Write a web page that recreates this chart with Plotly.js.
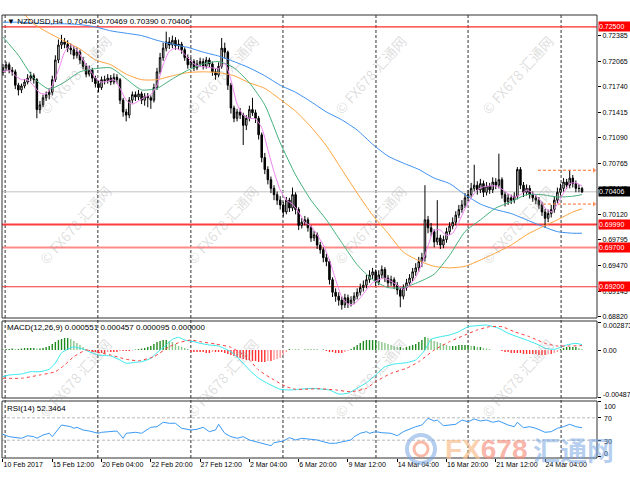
<!DOCTYPE html>
<html><head><meta charset="utf-8">
<script src="https://cdn.plot.ly/plotly-3.0.1.min.js"></script>
<style>html,body{margin:0;padding:0;background:#fff}#chart{width:630px;height:490px}</style>
</head><body><div id="chart"></div>
<script>
// ---------------- DATA ----------------
const symbol = 'NZDUSD,H4';
const tickBars = [0,16,32,48,64,80,96,112,128,144,160,176];
const tickLabels = ['10 Feb 2017','15 Feb 12:00','20 Feb 04:00','22 Feb 20:00','27 Feb 12:00','2 Mar 04:00','6 Mar 20:00','9 Mar 12:00','14 Mar 04:00','16 Mar 20:00','21 Mar 12:00','24 Mar 04:00'];

const open = [0.7192,0.7198,0.7202,0.7195,0.7193,0.7176,0.7170,0.7175,0.7180,0.7185,
0.7188,0.7183,0.7145,0.7151,0.7160,0.7164,0.7167,0.7183,0.7208,0.7227,
0.7231,0.7228,0.7223,0.7221,0.7214,0.7218,0.7208,0.7200,0.7190,0.7195,
0.7185,0.7178,0.7173,0.7183,0.7182,0.7185,0.7180,0.7186,0.7183,0.7157,
0.7142,0.7138,0.7157,0.7164,0.7161,0.7165,0.7157,0.7162,0.7160,0.7157,
0.7173,0.7193,0.7211,0.7223,0.7231,0.7227,0.7233,0.7226,0.7228,0.7221,
0.7211,0.7202,0.7206,0.7198,0.7203,0.7206,0.7200,0.7208,0.7203,0.7193,
0.7189,0.7200,0.7223,0.7218,0.7176,0.7147,0.7134,0.7142,0.7138,0.7125,
0.7134,0.7145,0.7141,0.7134,0.7113,0.7084,0.7069,0.7056,0.7045,0.7037,
0.7030,0.7024,0.7015,0.7030,0.7020,0.7037,0.7018,0.6998,0.7002,0.7005,
0.6995,0.6982,0.6986,0.6973,0.6967,0.6957,0.6952,0.6929,0.6913,0.6908,
0.6903,0.6897,0.6906,0.6899,0.6903,0.6908,0.6913,0.6919,0.6922,0.6929,
0.6935,0.6939,0.6926,0.6935,0.6942,0.6931,0.6925,0.6929,0.6922,0.6916,
0.6908,0.6919,0.6925,0.6931,0.6939,0.6944,0.6952,0.6957,0.7005,0.6995,
0.6990,0.6977,0.6982,0.6973,0.6980,0.6990,0.6997,0.7002,0.7011,0.7018,
0.7024,0.7033,0.7037,0.7045,0.7049,0.7043,0.7051,0.7040,0.7048,0.7043,
0.7053,0.7049,0.7056,0.7037,0.7028,0.7033,0.7030,0.7035,0.7069,0.7049,
0.7040,0.7045,0.7037,0.7033,0.7030,0.7024,0.7015,0.7007,0.7013,0.7018,
0.7030,0.7040,0.7045,0.7053,0.7049,0.7058,0.7051,0.7045,0.70448];

const high = [0.7203,0.7206,0.7205,0.7199,0.7196,0.7179,0.7178,0.7184,0.7190,0.7193,
0.7191,0.7185,0.7156,0.7164,0.7168,0.7172,0.7188,0.7214,0.7234,0.7240,
0.7236,0.7233,0.7229,0.7226,0.7224,0.7221,0.7212,0.7204,0.7201,0.7198,
0.7188,0.7182,0.7187,0.7188,0.7190,0.7189,0.7191,0.7190,0.7185,0.7160,
0.7146,0.7161,0.7168,0.7168,0.7170,0.7168,0.7166,0.7166,0.7163,0.7178,
0.7198,0.7217,0.7230,0.7244,0.7237,0.7239,0.7237,0.7234,0.7231,0.7224,
0.7215,0.7211,0.7209,0.7208,0.7211,0.7210,0.7212,0.7211,0.7206,0.7197,
0.7205,0.7236,0.7230,0.7220,0.7179,0.7150,0.7146,0.7147,0.7141,0.7138,
0.7150,0.7160,0.7145,0.7137,0.7116,0.7090,0.7073,0.7060,0.7049,0.7041,
0.7035,0.7028,0.7034,0.7033,0.7046,0.7040,0.7021,0.7007,0.7010,0.7008,
0.6998,0.6991,0.6989,0.6977,0.6970,0.6962,0.6955,0.6932,0.6918,0.6913,
0.6908,0.6911,0.6910,0.6908,0.6913,0.6918,0.6924,0.6928,0.6935,0.6941,
0.6944,0.6942,0.6941,0.6947,0.6945,0.6935,0.6934,0.6932,0.6926,0.6920,
0.6923,0.6930,0.6936,0.6944,0.6950,0.6958,0.6963,0.7049,0.7010,0.7001,
0.6993,0.7030,0.6986,0.6985,0.6995,0.7002,0.7008,0.7016,0.7024,0.7030,
0.7039,0.7043,0.7052,0.7075,0.7054,0.7057,0.7055,0.7053,0.7052,0.7059,
0.7058,0.7089,0.7059,0.7041,0.7038,0.7037,0.7040,0.7072,0.7072,0.7053,
0.7050,0.7049,0.7041,0.7037,0.7034,0.7028,0.7019,0.7018,0.7024,0.7035,
0.7046,0.7051,0.7058,0.7057,0.7068,0.7062,0.7055,0.7050,0.70469];

const low = [0.7188,0.7194,0.7191,0.7188,0.7171,0.7163,0.7166,0.7172,0.7177,0.7181,
0.7178,0.7134,0.7140,0.7148,0.7156,0.7158,0.7163,0.7180,0.7204,0.7222,
0.7223,0.7218,0.7215,0.7209,0.7210,0.7203,0.7196,0.7186,0.7187,0.7180,
0.7173,0.7167,0.7170,0.7177,0.7178,0.7176,0.7177,0.7178,0.7152,0.7136,
0.7130,0.7134,0.7153,0.7156,0.7157,0.7152,0.7150,0.7148,0.7146,0.7154,
0.7170,0.7190,0.7207,0.7219,0.7222,0.7223,0.7221,0.7221,0.7216,0.7207,
0.7197,0.7198,0.7194,0.7195,0.7199,0.7196,0.7197,0.7199,0.7188,0.7183,
0.7186,0.7197,0.7210,0.7170,0.7140,0.7129,0.7130,0.7133,0.7100,0.7119,
0.7130,0.7137,0.7128,0.7107,0.7078,0.7063,0.7050,0.7039,0.7030,0.7024,
0.7018,0.7009,0.7012,0.7015,0.7016,0.7012,0.6992,0.6994,0.6998,0.6990,
0.6977,0.6978,0.6968,0.6962,0.6951,0.6946,0.6923,0.6907,0.6901,0.6896,
0.6891,0.6893,0.6893,0.6895,0.6898,0.6904,0.6909,0.6914,0.6918,0.6925,
0.6930,0.6921,0.6922,0.6931,0.6926,0.6920,0.6921,0.6917,0.6910,0.6894,
0.6904,0.6915,0.6921,0.6927,0.6934,0.6939,0.6945,0.6952,0.6988,0.6984,
0.6970,0.6973,0.6968,0.6969,0.6976,0.6986,0.6993,0.6998,0.7007,0.7014,
0.7020,0.7029,0.7033,0.7041,0.7037,0.7039,0.7034,0.7036,0.7038,0.7039,
0.7044,0.7045,0.7032,0.7022,0.7024,0.7025,0.7026,0.7031,0.7044,0.7034,
0.7036,0.7032,0.7028,0.7025,0.7019,0.7010,0.6995,0.7002,0.7008,0.7014,
0.7026,0.7036,0.7041,0.7044,0.7045,0.7046,0.7040,0.7040,0.70390];

const close = [0.7198,0.7202,0.7195,0.7193,0.7176,0.7170,0.7175,0.7180,0.7185,0.7188,
0.7183,0.7145,0.7151,0.7160,0.7164,0.7167,0.7183,0.7208,0.7227,0.7231,
0.7228,0.7223,0.7221,0.7214,0.7218,0.7208,0.7200,0.7190,0.7195,0.7185,
0.7178,0.7173,0.7183,0.7182,0.7185,0.7180,0.7186,0.7183,0.7157,0.7142,
0.7138,0.7157,0.7164,0.7161,0.7165,0.7157,0.7162,0.7160,0.7157,0.7173,
0.7193,0.7211,0.7223,0.7231,0.7227,0.7233,0.7226,0.7228,0.7221,0.7211,
0.7202,0.7206,0.7198,0.7203,0.7206,0.7200,0.7208,0.7203,0.7193,0.7189,
0.7200,0.7223,0.7218,0.7176,0.7147,0.7134,0.7142,0.7138,0.7125,0.7134,
0.7145,0.7141,0.7134,0.7113,0.7084,0.7069,0.7056,0.7045,0.7037,0.7030,
0.7024,0.7015,0.7030,0.7020,0.7037,0.7018,0.6998,0.7002,0.7005,0.6995,
0.6982,0.6986,0.6973,0.6967,0.6957,0.6952,0.6929,0.6913,0.6908,0.6903,
0.6897,0.6906,0.6899,0.6903,0.6908,0.6913,0.6919,0.6922,0.6929,0.6935,
0.6939,0.6926,0.6935,0.6942,0.6931,0.6925,0.6929,0.6922,0.6916,0.6908,
0.6919,0.6925,0.6931,0.6939,0.6944,0.6952,0.6957,0.7005,0.6995,0.6990,
0.6977,0.6982,0.6973,0.6980,0.6990,0.6997,0.7002,0.7011,0.7018,0.7024,
0.7033,0.7037,0.7045,0.7049,0.7043,0.7051,0.7040,0.7048,0.7043,0.7053,
0.7049,0.7056,0.7037,0.7028,0.7033,0.7030,0.7035,0.7069,0.7049,0.7040,
0.7045,0.7037,0.7033,0.7030,0.7024,0.7015,0.7007,0.7013,0.7018,0.7030,
0.7040,0.7045,0.7053,0.7049,0.7058,0.7051,0.7045,0.70448,0.70406];

// moving averages, sampled along the drawn lines
const maBars = [0,5,10,15,20,25,30,35,40,45,50,55,60,65,70,75,80,85,90,95,100,105,110,115,120,125,130,135,140,145,150,155,160,165,170,175,180,185,188];
const maBlue = [0.7256,0.7256,0.7255,0.7254,0.7254,0.7253,0.7250,0.7245,0.7242,0.7239,0.7233,0.7228,0.7224,0.7218,0.7213,0.7206,0.7198,0.7188,0.7176,0.7167,0.7155,0.7142,0.7132,0.7119,0.7101,0.7086,0.7077,0.7069,0.7058,0.7051,0.7037,0.7025,0.7018,0.7013,0.7005,0.6997,0.6990,0.6988,0.6988];
const maGreen = [0.7237,0.7214,0.7185,0.7171,0.7180,0.7193,0.7197,0.7198,0.7184,0.7170,0.7172,0.7184,0.7195,0.7203,0.7206,0.7198,0.7179,0.7151,0.7103,0.7062,0.7030,0.7005,0.6976,0.6948,0.6929,0.6919,0.6919,0.6926,0.6936,0.6960,0.6990,0.7005,0.7020,0.7028,0.7037,0.7037,0.7034,0.7035,0.7037];
const orangeBars = [5,10,15,20,25,30,35,40,45,50,55,60,65,70,75,80,85,90,95,100,105,110,115,120,125,130,135,140,145,150,155,160,165,170,175,180,185,188];
const maOrange = [0.7274,0.7254,0.7242,0.7232,0.7222,0.7208,0.7202,0.7190,0.7183,0.7183,0.7188,0.7192,0.7193,0.7192,0.7188,0.7179,0.7172,0.7158,0.7143,0.7123,0.7099,0.7069,0.7039,0.7011,0.6988,0.6964,0.6953,0.6946,0.6944,0.6946,0.6954,0.6963,0.6973,0.6986,0.6996,0.7005,0.7015,0.7019];
const maPink = [0.7193,0.7195,0.7188,0.7183,0.7183,0.7175,0.7166,0.7165,0.7176,0.7195,
0.7218,0.7227,0.7221,0.7208,0.7197,0.7185,0.7180,0.7181,0.7183,0.7172,
0.7157,0.7152,0.7156,0.7161,0.7164,0.7176,0.7202,0.7219,0.7223,0.7219,
0.7211,0.7203,0.7200,0.7199,0.7198,0.7197,0.7204,0.7183,0.7152,0.7138,
0.7134,0.7133,0.7122,0.7094,0.7066,0.7043,0.7030,0.7025,0.7015,0.7002,
0.6997,0.6986,0.6973,0.6954,0.6929,0.6907,0.6898,0.6898,0.6906,0.6916,
0.6925,0.6929,0.6931,0.6927,0.6922,0.6917,0.6922,0.6932,0.6949,0.6972,
0.6992,0.6992,0.6985,0.6988,0.7002,0.7019,0.7033,0.7043,0.7047,0.7048,
0.7048,0.7044,0.7038,0.7034,0.7037,0.7043,0.7039,0.7032,0.7020,0.7015,
0.7025,0.7039,0.7051,0.7052,0.7048];

const levelsRed = [0.72500, 0.69990, 0.69700, 0.69200];
const lastPrice = 0.70406;
const arrowLevels = [0.7068, 0.7025];
const arrowFrom = [173.7, 175.3];
const arrowTo = 191.9;
const priceTicks = [0.72385,0.72065,0.71740,0.71415,0.71090,0.70765,0.70445,0.70120,0.69795,0.69470,0.69145,0.68820];

// MACD(12,26,9)
const macdHeader = [0.000551, 0.000457, 0.000095, 0.000000];
const macdBar = [0,2,6,9,12,15,17,19,21,23,26,28,31,35,38,40,43,45,48,50,53,55,57,59,62,64,67,70,74,77,80,83,87,90,93,96,100,103,106,109,112,114,118,121,124,127,131,134,137,139,142,145,148,151,154,157,161,164,167,170,174,176,179,181,183,186,188];
const macdMain = [-0.00276,-0.00258,-0.00248,-0.00224,-0.00224,-0.00199,-0.00134,-0.00031,0.00010,0.00031,0.00010,-0.00018,-0.00052,-0.00062,-0.00103,-0.00137,-0.00127,-0.00121,-0.00086,-0.00028,0.00052,0.00111,0.00131,0.00103,0.00086,0.00069,0.00052,0.00041,-0.00018,-0.00103,-0.00207,-0.00292,-0.00362,-0.00406,-0.00413,-0.00406,-0.00396,-0.00403,-0.00413,-0.00455,-0.00447,-0.00413,-0.00338,-0.00258,-0.00173,-0.00145,-0.00131,-0.00103,0.0,0.00111,0.00137,0.00155,0.00189,0.00241,0.00251,0.00258,0.00224,0.00173,0.00137,0.00103,0.00052,0.00018,0.00007,0.00028,0.00052,0.00069,0.000551];
const sigBar = [0,6,12,17,20,23,27,30,35,40,44,49,54,57,61,64,69,74,79,83,88,92,95,100,103,108,113,118,121,126,131,135,140,145,150,154,158,162,166,171,176,180,184,188];
const macdSignal = [-0.00292,-0.00292,-0.00258,-0.00224,-0.00155,-0.00069,0.0,-0.00018,-0.00052,-0.00096,-0.00111,-0.00069,0.00034,0.00075,0.00103,0.00086,0.00062,0.00028,-0.00069,-0.00207,-0.00310,-0.00379,-0.00406,-0.00403,-0.00400,-0.00413,-0.00431,-0.00396,-0.00327,-0.00241,-0.00189,-0.00121,0.0,0.00086,0.00155,0.00207,0.00241,0.00241,0.00189,0.00137,0.00069,0.00041,0.00041,0.000457];
const macdHist = [0.00005,0.00010,0.00010,0.00015,0.00010,0.00010,0.00015,0.00021,0.00021,0.00021,
0.00021,0.00015,0.00015,0.00021,0.00031,0.00041,0.00062,0.00083,0.00103,0.00114,
0.00124,0.00124,0.00114,0.00093,0.00072,0.00052,0.00031,0.00010,-0.00010,-0.00021,
-0.00021,-0.00031,-0.00031,-0.00031,-0.00021,-0.00021,-0.00021,-0.00021,-0.00010,-0.00010,
-0.00010,-0.00010,-0.00005,0.00005,0.00010,0.00015,0.00021,0.00031,0.00041,0.00062,
0.00083,0.00093,0.00103,0.00103,0.00093,0.00083,0.00062,0.00041,0.00031,0.00021,
0.00010,-0.00021,-0.00021,-0.00021,-0.00021,-0.00021,-0.00031,-0.00031,-0.00021,-0.00021,
-0.00021,-0.00021,-0.00031,-0.00041,-0.00052,-0.00062,-0.00072,-0.00083,-0.00093,-0.00103,
-0.00103,-0.00114,-0.00114,-0.00124,-0.00124,-0.00124,-0.00114,-0.00114,-0.00103,-0.00093,
-0.00083,-0.00052,-0.00021,0.00010,0.00005,0.00005,0.00005,0,0.00005,0.00005,
0.00005,0.00005,0.00005,0,0.00005,-0.00010,-0.00021,-0.00021,-0.00031,-0.00031,
-0.00031,-0.00021,-0.00010,0.00010,0.00031,0.00052,0.00072,0.00093,0.00103,0.00103,
0.00103,0.00103,0.00093,0.00083,0.00072,0.00062,0.00052,0.00041,0.00031,0.00031,
0.00021,0.00031,0.00041,0.00052,0.00062,0.00083,0.00103,0.00134,0.00124,0.00114,
0.00093,0.00083,0.00072,0.00062,0.00052,0.00041,0.00041,0.00041,0.00052,0.00052,
0.00052,0.00052,0.00041,0.00041,0.00031,0.00031,0.00021,0.00015,0.00010,0,
0,0,-0.00010,-0.00021,-0.00021,-0.00031,-0.00031,-0.00031,-0.00031,-0.00041,
-0.00041,-0.00041,-0.00041,-0.00041,-0.00052,-0.00052,-0.00052,-0.00041,-0.00041,-0.00031,
-0.00021,0.00010,0.00021,0.00031,0.00031,0.00031,0.00031,0.00021,0.000095];
const macdTicks = [0.002873, 0, -0.004875];
const macdTickText = ['0.002873', '0.00', '-0.004875'];

// RSI(14)
const rsiLast = 52.3464;
const rsiBar = [0,2,6,8,10,11,13,15,16,18,19,22,23,24,26,28,31,32,35,37,39,40,43,45,48,50,52,54,56,58,61,63,65,67,69,70,72,74,76,78,80,82,84,87,88,90,91,93,95,97,100,102,104,106,108,110,113,114,116,118,119,121,123,126,128,130,132,134,136,138,140,141,143,145,147,149,151,153,155,157,159,161,164,166,167,169,171,173,176,178,180,182,184,186,188];
const rsi = [40.5,36.3,33.4,38,36.3,33.4,39.3,42.3,36.3,51.3,57.1,54.1,51.3,53,48.2,46.4,42.3,44.1,45.2,46.4,33.4,42.3,44.1,42.3,53,54.1,62,60.2,60.2,51.3,48.2,49.5,53,45.2,48.2,58.4,42.3,36.3,33.4,36.3,30.4,27.3,24.5,20.2,25.5,27.3,28.6,34.5,30.4,33.4,31.3,30.4,27.3,24.5,24.5,27.3,30.4,36.3,42.3,45.2,42.3,45.2,43.4,42.3,38,45.2,50,54.1,57.1,69.1,64.3,66,55.9,57.1,58.4,66,63,67.9,64.3,66,62,64.3,57.1,54.1,62,52.3,54.1,51.3,44.1,45.2,51.3,54.1,58.4,54.1,52.3464];
const rsiTicks = [100, 70, 30, 0];
const rsiLevels = [70, 30];

// ---------------- LAYOUT HELPERS ----------------
const FONT = 'Liberation Sans, Arial, sans-serif';
const L = 2, R = 597, T = 15, B = 458;
const px = x => (x - L) / (R - L);
const py = y => (B - y) / (B - T);
const bars = close.map((_, i) => i);
const pinkBars = maPink.map((_, i) => Math.min(i * 2, 188));
const gridBars = [0.7, 30.8, 61.0, 90.9, 121.1, 151.0, 181.2];

const dMain = [py(318), 1], dMacd = [py(398), py(321)], dRsi = [0, py(401)];

const histColors = macdHist.map((v, i) => {
  const p = i > 0 ? macdHist[i - 1] : 0;
  if (v >= 0) return v >= p ? '#1d8a1d' : '#86c686';
  return v <= p ? '#ff3030' : '#ff9a9a';
});

const traces = [
  {type:'candlestick', x:bars, open:open, high:high, low:low, close:close, xaxis:'x', yaxis:'y',
   increasing:{line:{color:'#000', width:1}, fillcolor:'#ffffff'},
   decreasing:{line:{color:'#000', width:1}, fillcolor:'#000000'},
   whiskerwidth:0, hoverinfo:'skip', showlegend:false},
  {type:'scatter', mode:'lines', x:maBars, y:maBlue, yaxis:'y', line:{color:'#3a8ef2', width:1, shape:'spline', smoothing:0.6}, hoverinfo:'skip'},
  {type:'scatter', mode:'lines', x:orangeBars, y:maOrange, yaxis:'y', line:{color:'#ffa23a', width:1, shape:'spline', smoothing:0.6}, hoverinfo:'skip'},
  {type:'scatter', mode:'lines', x:maBars, y:maGreen, yaxis:'y', line:{color:'#42b07a', width:1, shape:'spline', smoothing:0.6}, hoverinfo:'skip'},
  {type:'scatter', mode:'lines', x:pinkBars, y:maPink, yaxis:'y', line:{color:'#ee82ee', width:1, shape:'spline', smoothing:0.6}, hoverinfo:'skip'},
];
arrowLevels.forEach((lv, k) => {
  traces.push({type:'scatter', mode:'lines+markers', x:[arrowFrom[k], arrowTo], y:[lv, lv], yaxis:'y',
    line:{color:'#ff6a2a', width:1, dash:'3px,2px'},
    marker:{symbol:'triangle-right', size:[0, 6], color:'#ff6a2a'}, hoverinfo:'skip', cliponaxis:false});
});
traces.push(
  {type:'bar', x:bars, y:macdHist, yaxis:'y2', width:0.45, marker:{color:histColors, line:{width:0}}, hoverinfo:'skip'},
  {type:'scatter', mode:'lines', x:macdBar, y:macdMain, yaxis:'y2', line:{color:'#38e8ee', width:1, shape:'spline', smoothing:0.5}, hoverinfo:'skip'},
  {type:'scatter', mode:'lines', x:sigBar, y:macdSignal, yaxis:'y2', line:{color:'#ff3a3a', width:1, dash:'dot', shape:'spline', smoothing:0.5}, hoverinfo:'skip'},
  {type:'scatter', mode:'lines', x:rsiBar, y:rsi, yaxis:'y3', line:{color:'#3a9af5', width:1}, hoverinfo:'skip'}
);

const shapes = [];
gridBars.forEach(g => shapes.push({type:'line', xref:'x', yref:'paper', x0:g, x1:g, y0:0, y1:1, layer:'below',
  line:{color:'#333', width:1, dash:'3px,2px'}}));
shapes.push({type:'line', xref:'paper', yref:'y', x0:0, x1:1, y0:lastPrice, y1:lastPrice, layer:'below', line:{color:'#c4c4c4', width:1}});
const levelStyle = [{c:'#ff2a2a', w:1.2}, {c:'#ff3c3c', w:2}, {c:'#ff8a8a', w:2}, {c:'#ff3030', w:1.2}];
levelsRed.forEach((lv, k) => shapes.push({type:'line', xref:'paper', yref:'y', x0:0, x1:1, y0:lv, y1:lv, layer:'below',
  line:{color:levelStyle[k].c, width:levelStyle[k].w}}));
rsiLevels.forEach(lv => shapes.push({type:'line', xref:'paper', yref:'y3', x0:0, x1:1, y0:lv, y1:lv, layer:'below',
  line:{color:'#b8b8b8', width:1, dash:'3px,2px'}}));
[dMain, dMacd, dRsi].forEach(d => shapes.push({type:'rect', xref:'paper', yref:'paper', x0:0, x1:1, y0:d[0], y1:d[1],
  line:{color:'#303030', width:1}, fillcolor:'rgba(0,0,0,0)'}));
// logo swirl
shapes.push({type:'circle', xref:'paper', yref:'paper', x0:px(407), x1:px(435), y0:py(463), y1:py(435),
  line:{color:'rgba(120,165,225,0.55)', width:4}});
shapes.push({type:'circle', xref:'paper', yref:'paper', x0:px(414), x1:px(428), y0:py(456), y1:py(442),
  line:{color:'rgba(245,140,110,0.6)', width:3}});

const ann = [];
const f5 = v => v.toFixed(5);
const txt = (x, y, text, font, extra) => Object.assign({xref:'paper', yref:'paper', x:px(x), y:py(y),
  xanchor:'left', yanchor:'middle', showarrow:false, text:text, font:font}, extra || {});
ann.push(txt(5, 22, '▼ ' + symbol + '  ' + f5(open[188]) + ' ' + f5(high[188]) + ' ' + f5(low[188]) + ' ' + f5(close[188]),
  {family:FONT, size:8, color:'#000'}));
ann.push(txt(5, 327, 'MACD(12,26,9) ' + macdHeader.map(v => v.toFixed(6)).join(' '), {family:FONT, size:8, color:'#000'}));
ann.push(txt(5, 408, 'RSI(14) ' + rsiLast.toFixed(4), {family:FONT, size:8, color:'#000'}));
// right-axis labels for MACD and RSI panels (top/bottom ones pulled inside like the terminal does)
const axFont = {family:FONT, size:7, color:'#000'};
macdTicks.forEach((v, k) => ann.push({xref:'paper', yref:'y2', x:1, xshift:4, y:v, xanchor:'left', yanchor:'middle',
  yshift: k === 0 ? -3 : (k === 2 ? 3 : 0), showarrow:false, text:macdTickText[k], font:axFont}));
rsiTicks.forEach((v, k) => ann.push({xref:'paper', yref:'y3', x:1, xshift:5, y:v, xanchor:'left', yanchor:'middle',
  yshift: v === 100 ? -5 : (v === 0 ? 3 : -1), showarrow:false, text:String(v), font:axFont}));
// right-side price labels
levelsRed.forEach(lv => ann.push({xref:'paper', yref:'y', x:1, xshift:1, y:lv, xanchor:'left', yanchor:'middle', showarrow:false,
  text:f5(lv), font:{family:FONT, size:7, color:'#fff'}, bgcolor:'#ff0000', width:31, height:9, align:'left', borderpad:0}));
ann.push({xref:'paper', yref:'y', x:1, xshift:1, y:lastPrice, xanchor:'left', yanchor:'middle', showarrow:false,
  text:f5(lastPrice), font:{family:FONT, size:7, color:'#fff'}, bgcolor:'#000000', width:31, height:9, align:'left', borderpad:0});
// watermarks
const wmPos = [[75,75],[222,75],[370,75],[517,75],[75,225],[222,225],[370,225],[517,225],[75,378],[222,378],[370,378],[517,378]];
wmPos.forEach(p => ann.push(txt(p[0], p[1], '© FX678 汇通网',
  {family:'Noto Sans CJK SC, sans-serif', size:14, color:'rgba(150,150,150,0.33)'}, {xanchor:'center', textangle:-48})));
// bottom logo
ann.push(txt(486, 449, '<b><span style="color:rgba(250,190,140,0.7)">FX</span><span style="color:rgba(244,140,120,0.65)">678</span></b>',
  {family:FONT, size:28}, {xanchor:'center'}));
ann.push(txt(573, 449, '<b>汇通网</b>', {family:'Noto Sans CJK SC, sans-serif', size:27, color:'rgba(120,165,225,0.55)'}, {xanchor:'center'}));

const layout = {
  width:630, height:490, margin:{l:L, r:630 - R, t:T, b:490 - B},
  paper_bgcolor:'#fff', plot_bgcolor:'#fff', showlegend:false, hovermode:false,
  xaxis:{range:[-0.32, 192.86], anchor:'y3', tickmode:'array', tickvals:tickBars, ticktext:tickLabels, tickangle:0,
    ticks:'outside', ticklen:3, tickcolor:'#000', tickfont:axFont, ticklabelposition:'outside right',
    showgrid:false, zeroline:false, showline:false, rangeslider:{visible:false}, fixedrange:true},
  yaxis:{domain:dMain, range:[0.688034, 0.726515], side:'right', tickmode:'array', tickvals:priceTicks,
    ticktext:priceTicks.map(f5), ticks:'outside', ticklen:3, tickcolor:'#000', tickfont:axFont,
    showgrid:false, zeroline:false, showline:false, fixedrange:true},
  yaxis2:{domain:dMacd, range:[-0.004958, 0.002996], side:'right', tickmode:'array', tickvals:macdTicks,
    showticklabels:false, ticks:'outside', ticklen:3, tickcolor:'#000',
    showgrid:false, zeroline:false, showline:false, fixedrange:true},
  yaxis3:{domain:dRsi, range:[-1.8, 100], side:'right', tickmode:'array', tickvals:rsiTicks,
    showticklabels:false, ticks:'outside', ticklen:3, tickcolor:'#000',
    showgrid:false, zeroline:false, showline:false, fixedrange:true},
  shapes:shapes, annotations:ann
};
Plotly.newPlot('chart', traces, layout, {displayModeBar:false, staticPlot:true});
</script>
</body></html>
